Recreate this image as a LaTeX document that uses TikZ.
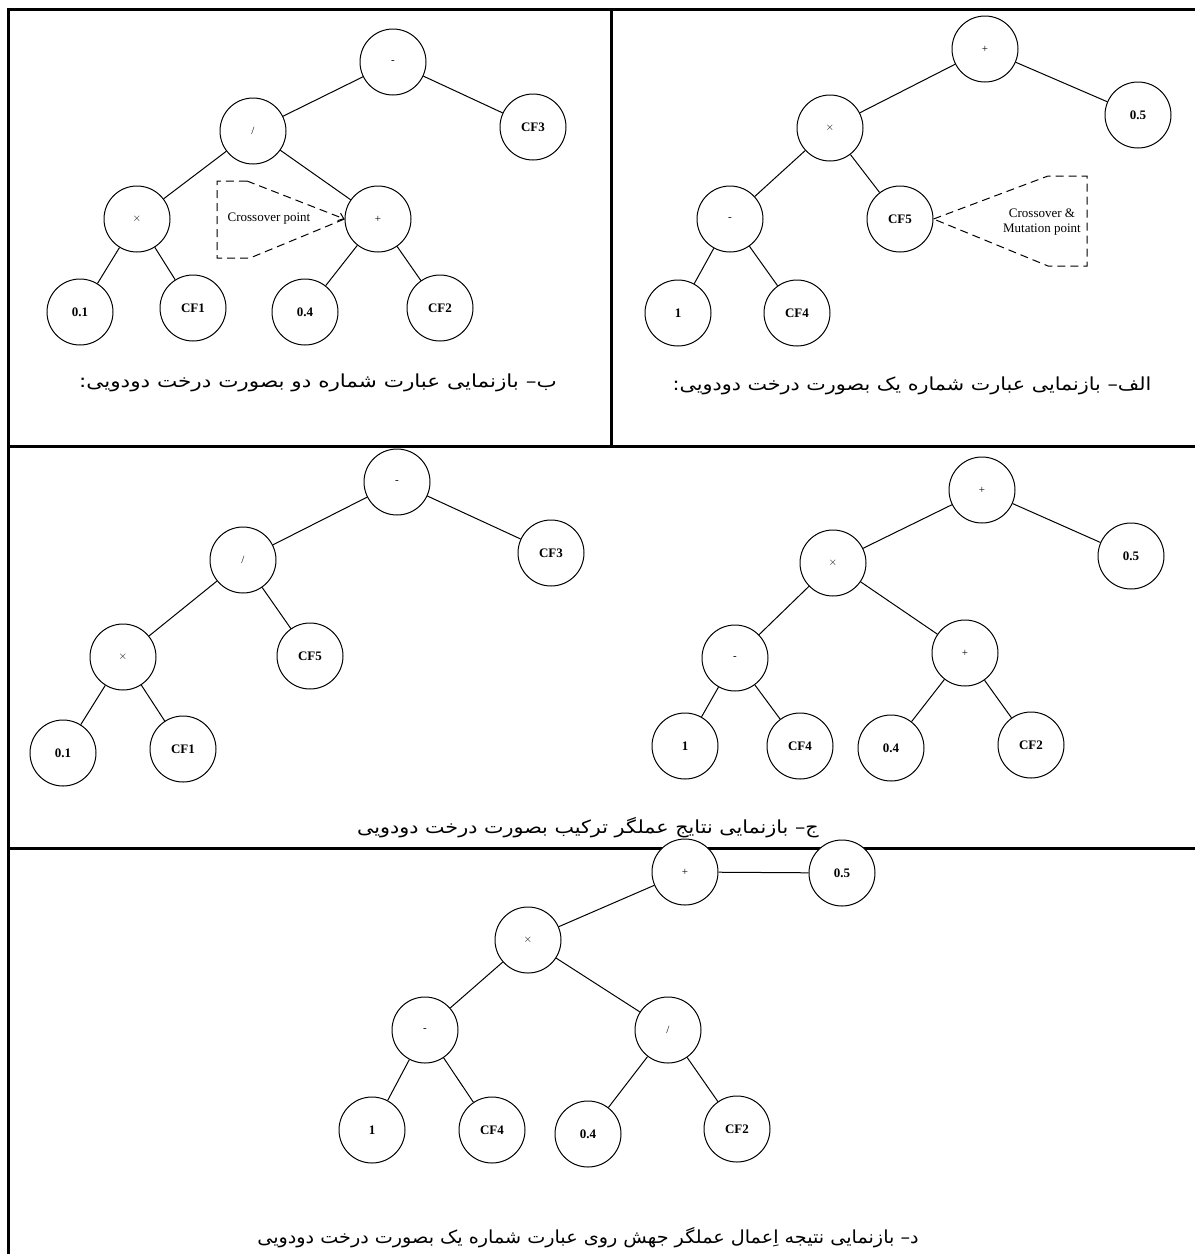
\documentclass[tikz,border=0pt]{standalone}
\usepackage{fontspec}
\setmainfont{Liberation Serif}
\newfontfamily\arabicfont[Script=Arabic]{DejaVu Sans}
\TeXXeTstate=1
\usetikzlibrary{arrows.meta}
\begin{document}
\begin{tikzpicture}[x=1pt,y=-1pt,
  op/.style={circle,draw,line width=1pt,minimum size=66pt,inner sep=0pt,fill=white,font=\fontsize{11}{13}\selectfont},
  leaf/.style={op,font=\fontsize{13}{15}\selectfont\bfseries},
  edge/.style={line width=1pt},
  frameline/.style={line width=3pt},
  callout/.style={line width=1pt,dash pattern=on 8pt off 5pt},
  captxt/.style={inner sep=0pt,font=\arabicfont\fontsize{18}{21}\selectfont},
  notetxt/.style={font=\fontsize{13}{15}\selectfont,inner sep=0pt,align=center}
]
\useasboundingbox (0,0) rectangle (1195,1254);
\fill[white] (0,0) rectangle (1195,1254);

% frame
\draw[frameline] (8,1254) -- (8,9) -- (1195,9);
\draw[frameline] (8,446) -- (1195,446);
\draw[frameline] (8,848) -- (1195,848);
\draw[frameline] (611,9) -- (611,446);

% ---------- panel b (top left)
\node[op]   (minusB) at (393,62)  {-};
\node[op]   (divB)   at (253,131) {/};
\node[leaf] (cfthreeB) at (533,127) {CF3};
\node[op]   (timesB) at (137,219) {$\times$};
\node[op]   (plusB)  at (378,219) {+};
\node[leaf] (ptoneB) at (80,312) {0.1};
\node[leaf] (cfoneB) at (193,308) {CF1};
\node[leaf] (ptfourB) at (305,312) {0.4};
\node[leaf] (cftwoB) at (440,308) {CF2};
\draw[edge] (minusB) -- (divB);
\draw[edge] (minusB) -- (cfthreeB);
\draw[edge] (divB) -- (timesB);
\draw[edge] (divB) -- (plusB);
\draw[edge] (timesB) -- (ptoneB);
\draw[edge] (timesB) -- (cfoneB);
\draw[edge] (plusB) -- (ptfourB);
\draw[edge] (plusB) -- (cftwoB);
\coordinate (crB1) at (247,181);
\coordinate (crB2) at (217,181);
\coordinate (crB3) at (217,258);
\coordinate (crB4) at (250,258);
\draw[callout] (plusB.west) -- (crB4) -- (crB3) -- (crB2) -- (crB1);
\draw[callout,-{Straight Barb[length=5pt,width=8pt]}] (crB1) -- (plusB.west);
\node[notetxt] (noteB) at (269,219) {Crossover point};
\node[captxt] (capB) at (318,383) {\scalebox{1.195}[1]{\beginR ب– بازنمایی عبارت شماره دو بصورت درخت دودویی:\endR}};

% ---------- panel a (top right)
\node[op]   (plusA)  at (985,49)  {+};
\node[op]   (timesA) at (830,128) {$\times$};
\node[leaf] (ptfiveA) at (1138,115) {0.5};
\node[op]   (minusA) at (730,219) {-};
\node[leaf] (cffiveA) at (900,219) {CF5};
\node[leaf] (oneA)   at (678,313) {1};
\node[leaf] (cffourA) at (797,313) {CF4};
\draw[edge] (plusA) -- (timesA);
\draw[edge] (plusA) -- (ptfiveA);
\draw[edge] (timesA) -- (minusA);
\draw[edge] (timesA) -- (cffiveA);
\draw[edge] (minusA) -- (oneA);
\draw[edge] (minusA) -- (cffourA);
\coordinate (crA1) at (1048,176);
\coordinate (crA2) at (1087,176);
\coordinate (crA3) at (1087,266);
\coordinate (crA4) at (1048,266);
\draw[callout] (cffiveA.east) -- (crA1) -- (crA2) -- (crA3) -- (crA4) -- cycle;
\node[notetxt] (noteA) at (1042,222) {Crossover \&\\Mutation point};
\node[captxt] (capA) at (912,386) {\scalebox{1.15}[1]{\beginR الف– بازنمایی عبارت شماره یک بصورت درخت دودویی:\endR}};

% ---------- panel c, left tree
\node[op]   (minusC) at (397,482) {-};
\node[op]   (divC)   at (243,560) {/};
\node[leaf] (cfthreeC) at (551,553) {CF3};
\node[op]   (timesC) at (123,657) {$\times$};
\node[leaf] (cffiveC) at (310,656) {CF5};
\node[leaf] (ptoneC) at (63,753) {0.1};
\node[leaf] (cfoneC) at (183,749) {CF1};
\draw[edge] (minusC) -- (divC);
\draw[edge] (minusC) -- (cfthreeC);
\draw[edge] (divC) -- (timesC);
\draw[edge] (divC) -- (cffiveC);
\draw[edge] (timesC) -- (ptoneC);
\draw[edge] (timesC) -- (cfoneC);
% panel c, right tree
\node[op]   (plusC)  at (982,490) {+};
\node[op]   (timesCC) at (833,563) {$\times$};
\node[leaf] (ptfiveC) at (1131,556) {0.5};
\node[op]   (minusCC) at (735,658) {-};
\node[op]   (plusCC) at (965,653) {+};
\node[leaf] (oneC)   at (685,746) {1};
\node[leaf] (cffourC) at (800,746) {CF4};
\node[leaf] (ptfourC) at (891,748) {0.4};
\node[leaf] (cftwoC) at (1031,745) {CF2};
\draw[edge] (plusC) -- (timesCC);
\draw[edge] (plusC) -- (ptfiveC);
\draw[edge] (timesCC) -- (minusCC);
\draw[edge] (timesCC) -- (plusCC);
\draw[edge] (minusCC) -- (oneC);
\draw[edge] (minusCC) -- (cffourC);
\draw[edge] (plusCC) -- (ptfourC);
\draw[edge] (plusCC) -- (cftwoC);
\node[captxt] (capC) at (588,828) {\scalebox{1.15}[1]{\beginR ج– بازنمایی نتایج عملگر ترکیب بصورت درخت دودویی\endR}};

% ---------- panel d
\node[op]   (plusD)  at (685,872) {+};
\node[op]   (timesD) at (528,940) {$\times$};
\node[leaf] (ptfiveD) at (842,873) {0.5};
\node[op]   (minusD) at (425,1030) {-};
\node[op]   (divD)   at (668,1030) {/};
\node[leaf] (oneD)   at (372,1130) {1};
\node[leaf] (cffourD) at (492,1130) {CF4};
\node[leaf] (ptfourD) at (588,1134) {0.4};
\node[leaf] (cftwoD) at (737,1129) {CF2};
\draw[edge] (plusD) -- (timesD);
\draw[edge] (plusD) -- (ptfiveD);
\draw[edge] (timesD) -- (minusD);
\draw[edge] (timesD) -- (divD);
\draw[edge] (minusD) -- (oneD);
\draw[edge] (minusD) -- (cffourD);
\draw[edge] (divD) -- (ptfourD);
\draw[edge] (divD) -- (cftwoD);
\node[captxt] (capD) at (588,1238) {\scalebox{1.066}[1]{\beginR د– بازنمایی نتیجه اِعمال عملگر جهش روی عبارت شماره یک بصورت درخت دودویی\endR}};
\end{tikzpicture}
\end{document}
